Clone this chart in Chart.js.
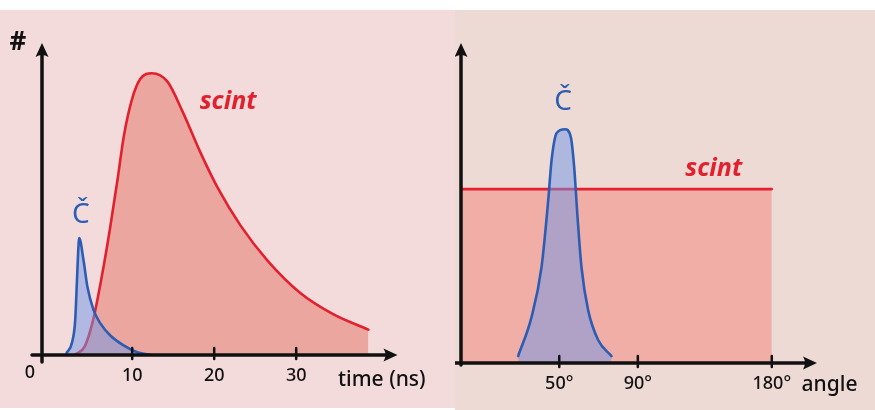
<!DOCTYPE html>
<html>
<head>
<meta charset="utf-8">
<script src="https://cdn.jsdelivr.net/npm/chart.js@4.4.1/dist/chart.umd.min.js"></script>
<style>
  html, body { margin: 0; padding: 0; background: #ffffff; }
  body { width: 875px; height: 410px; position: relative; overflow: hidden; }
  #timePanel { position: absolute; left: 0; top: 10px; width: 455px; height: 398px; background: #f3dadb; }
  #anglePanel { position: absolute; left: 455px; top: 10px; width: 420px; height: 400px; background: #eddad5; }
  canvas { display: block; }
</style>
</head>
<body>
<div id="timePanel"><canvas id="timeChart" width="455" height="398"></canvas></div>
<div id="anglePanel"><canvas id="angleChart" width="420" height="400"></canvas></div>
<script>
// ---- time spectrum (ns) ----
const scintTime   = [3.0, 4.2, 5.2, 6.3, 7.3, 8.2, 9.0, 10.0, 11.0, 12.4, 14.3, 16.2, 18.3, 20.4, 23.2, 26.5, 30.5, 34.5, 38.8];
const scintCounts = [0, 3, 12, 28, 45, 62, 78, 91, 98, 100, 97, 86, 72, 59.5, 46, 33.5, 22, 14.5, 9];
const cherTime    = [2.0, 2.65, 3.05, 3.25, 3.4, 3.54, 4.06, 4.55, 5.28, 6.1, 7.3, 8.9, 10.6, 12.4];
const cherCounts  = [0.7, 4.3, 12.4, 25.5, 36, 41.5, 33.7, 24, 16, 11.3, 7, 3.5, 1, 0];
const timeTicks   = [10, 20, 30];
const timeTickLabels = ['10', '20', '30'];

// ---- angular distribution (degrees) ----
const scintAngle       = [0, 180];
const scintAngleCounts = [50, 50];
const cherAngle        = [29.1, 35.9, 41.0, 44.4, 46.1, 48.7, 52.9, 55.9, 57.6, 59.3, 61.3, 64.7, 69.8, 76.6];
const cherAngleCounts  = [2.0, 13.2, 27.6, 46.8, 58.3, 66.1, 67.2, 64.9, 56.3, 42.0, 27.6, 15.2, 6.6, 2.0];
const angleTicks       = [50, 90, 180];
const angleTickLabels  = ['50°', '90°', '180°'];

const INK = '#111111';
const RED = '#e2202e';
const BLUE = '#2d5db3';
const BLUE_FILL = 'rgba(112, 150, 232, 0.5)';
const HAND = '"Noto Sans", "DejaVu Sans", sans-serif';

// Linear axis whose range above a break value is squeezed (angle axis not to scale past 90°)
class BrokenLinearScale extends Chart.LinearScale {
  warp(v) {
    const o = this.options;
    return v <= o.breakAt ? v : o.breakAt + (v - o.breakAt) * o.compress;
  }
  getPixelForValue(value) {
    if (value === null || value === undefined || isNaN(value)) return NaN;
    const lo = this.warp(this.min), hi = this.warp(this.max);
    return this.getPixelForDecimal((this.warp(value) - lo) / (hi - lo));
  }
  getValueForPixel(pixel) {
    const o = this.options;
    const lo = this.warp(this.min), hi = this.warp(this.max);
    const w = lo + this.getDecimalForPixel(pixel) * (hi - lo);
    return w <= o.breakAt ? w : o.breakAt + (w - o.breakAt) / o.compress;
  }
}
BrokenLinearScale.id = 'brokenLinear';
BrokenLinearScale.defaults = {};
Chart.register(BrokenLinearScale);

function arrowHead(ctx, x, y, dir) {
  // dir: 'up' or 'right'; (x, y) is the tip
  ctx.beginPath();
  if (dir === 'up') {
    ctx.moveTo(x, y);
    ctx.lineTo(x - 6.5, y + 14);
    ctx.quadraticCurveTo(x, y + 10, x + 6.5, y + 14);
  } else {
    ctx.moveTo(x, y);
    ctx.lineTo(x - 14, y - 6.5);
    ctx.quadraticCurveTo(x - 10, y, x - 14, y + 6.5);
  }
  ctx.closePath();
  ctx.fill();
}

// Axes with arrows, tick marks, tick labels, axis titles and series labels
const handAxes = {
  id: 'handAxes',
  afterDatasetsDraw(chart, args, o) {
    const { ctx, chartArea: a, scales: { x, y } } = chart;
    ctx.save();
    ctx.strokeStyle = INK;
    ctx.fillStyle = INK;
    ctx.lineWidth = 3.5;
    ctx.lineCap = 'round';

    // vertical axis
    ctx.beginPath();
    ctx.moveTo(a.left, a.bottom + o.yOver);
    ctx.lineTo(a.left, a.top + o.yTip + 8);
    ctx.stroke();
    arrowHead(ctx, a.left, a.top + o.yTip, 'up');

    // horizontal axis
    ctx.beginPath();
    ctx.moveTo(a.left - o.xUnder, a.bottom);
    ctx.lineTo(a.right + o.xTip - 8, a.bottom);
    ctx.stroke();
    arrowHead(ctx, a.right + o.xTip, a.bottom, 'right');

    // tick marks and labels
    ctx.lineWidth = 2.5;
    ctx.font = '500 18px ' + HAND;
    ctx.textAlign = 'center';
    ctx.textBaseline = 'middle';
    o.ticks.forEach((v, i) => {
      const px = x.getPixelForValue(v);
      ctx.beginPath();
      ctx.moveTo(px, a.bottom - 7);
      ctx.lineTo(px, a.bottom + 4);
      ctx.stroke();
      ctx.fillText(o.tickLabels[i], px, a.bottom + o.labelDy);
    });
    if (o.originLabel) {
      ctx.fillText(o.originLabel, a.left - 12, a.bottom + o.labelDy - 3);
    }

    // axis titles
    ctx.font = '500 21px ' + HAND;
    ctx.textAlign = 'left';
    ctx.fillText(o.xTitle, x.getPixelForValue(o.xTitleAt), a.bottom + o.xTitleDy);
    if (o.yTitle) {
      ctx.font = 'bold 26px ' + HAND;
      ctx.textAlign = 'center';
      ctx.fillText(o.yTitle, a.left - 24, a.top - 2);
    }

    // series labels
    o.seriesLabels.forEach(l => {
      ctx.font = l.font;
      ctx.fillStyle = l.color;
      ctx.textAlign = 'center';
      ctx.fillText(l.text, x.getPixelForValue(l.x), y.getPixelForValue(l.y));
    });
    ctx.restore();
  }
};

function points(xs, ys) { return xs.map((v, i) => ({ x: v, y: ys[i] })); }

function curve(label, xs, ys, line, fillColor, order) {
  return {
    label, data: points(xs, ys), order,
    borderColor: line, backgroundColor: fillColor, borderWidth: 2.6,
    fill: 'origin', pointRadius: 0, cubicInterpolationMode: 'monotone',
    borderCapStyle: 'round', borderJoinStyle: 'round'
  };
}

const baseOptions = {
  responsive: false,
  animation: false,
  devicePixelRatio: 1,
  plugins: {
    legend: { display: false },
    tooltip: { enabled: false },
    filler: { drawTime: 'beforeDatasetDraw' }
  }
};

new Chart(document.getElementById('timeChart'), {
  type: 'line',
  data: {
    datasets: [
      curve('Č', cherTime, cherCounts, BLUE, BLUE_FILL, 0),
      curve('scint', scintTime, scintCounts, RED, '#eba79f', 1)
    ]
  },
  options: {
    ...baseOptions,
    layout: { padding: { left: 42, top: 35, right: 64.5, bottom: 53 } },
    scales: {
      x: { type: 'linear', min: -1, max: 41.5, display: false },
      y: { type: 'linear', min: 0, max: 110, display: false }
    },
    plugins: {
      ...baseOptions.plugins,
      handAxes: {
        yOver: 7, yTip: -2, xUnder: 10, xTip: 7, labelDy: 21,
        ticks: timeTicks, tickLabels: timeTickLabels, originLabel: '0',
        xTitle: 'time (ns)', xTitleAt: 35.1, xTitleDy: 25, yTitle: '#',
        seriesLabels: [
          { text: 'scint', x: 21.7, y: 89.7, color: RED, font: 'italic bold 25px ' + HAND },
          { text: 'Č', x: 3.75, y: 49.6, color: BLUE, font: '28px ' + HAND }
        ]
      }
    }
  },
  plugins: [handAxes]
});

new Chart(document.getElementById('angleChart'), {
  type: 'line',
  data: {
    datasets: [
      curve('Č', cherAngle, cherAngleCounts, BLUE, BLUE_FILL, 0),
      curve('scint', scintAngle, scintAngleCounts, RED, '#f0aea6', 1)
    ]
  },
  options: {
    ...baseOptions,
    layout: { padding: { left: 6, top: 33, right: 66, bottom: 47 } },
    scales: {
      x: { type: 'brokenLinear', min: 0, max: 205, breakAt: 90, compress: 0.7575, display: false },
      y: { type: 'linear', min: 0, max: 92, display: false }
    },
    plugins: {
      ...baseOptions.plugins,
      handAxes: {
        yOver: 2, yTip: 0, xUnder: 6, xTip: 8, labelDy: 21,
        ticks: angleTicks, tickLabels: angleTickLabels, originLabel: '',
        xTitle: 'angle', xTitleAt: 200, xTitleDy: 22, yTitle: '',
        seriesLabels: [
          { text: 'scint', x: 141, y: 55.7, color: RED, font: 'italic bold 25px ' + HAND },
          { text: 'Č', x: 51.9, y: 74.9, color: BLUE, font: '28px ' + HAND }
        ]
      }
    }
  },
  plugins: [handAxes]
});
</script>
</body>
</html>
